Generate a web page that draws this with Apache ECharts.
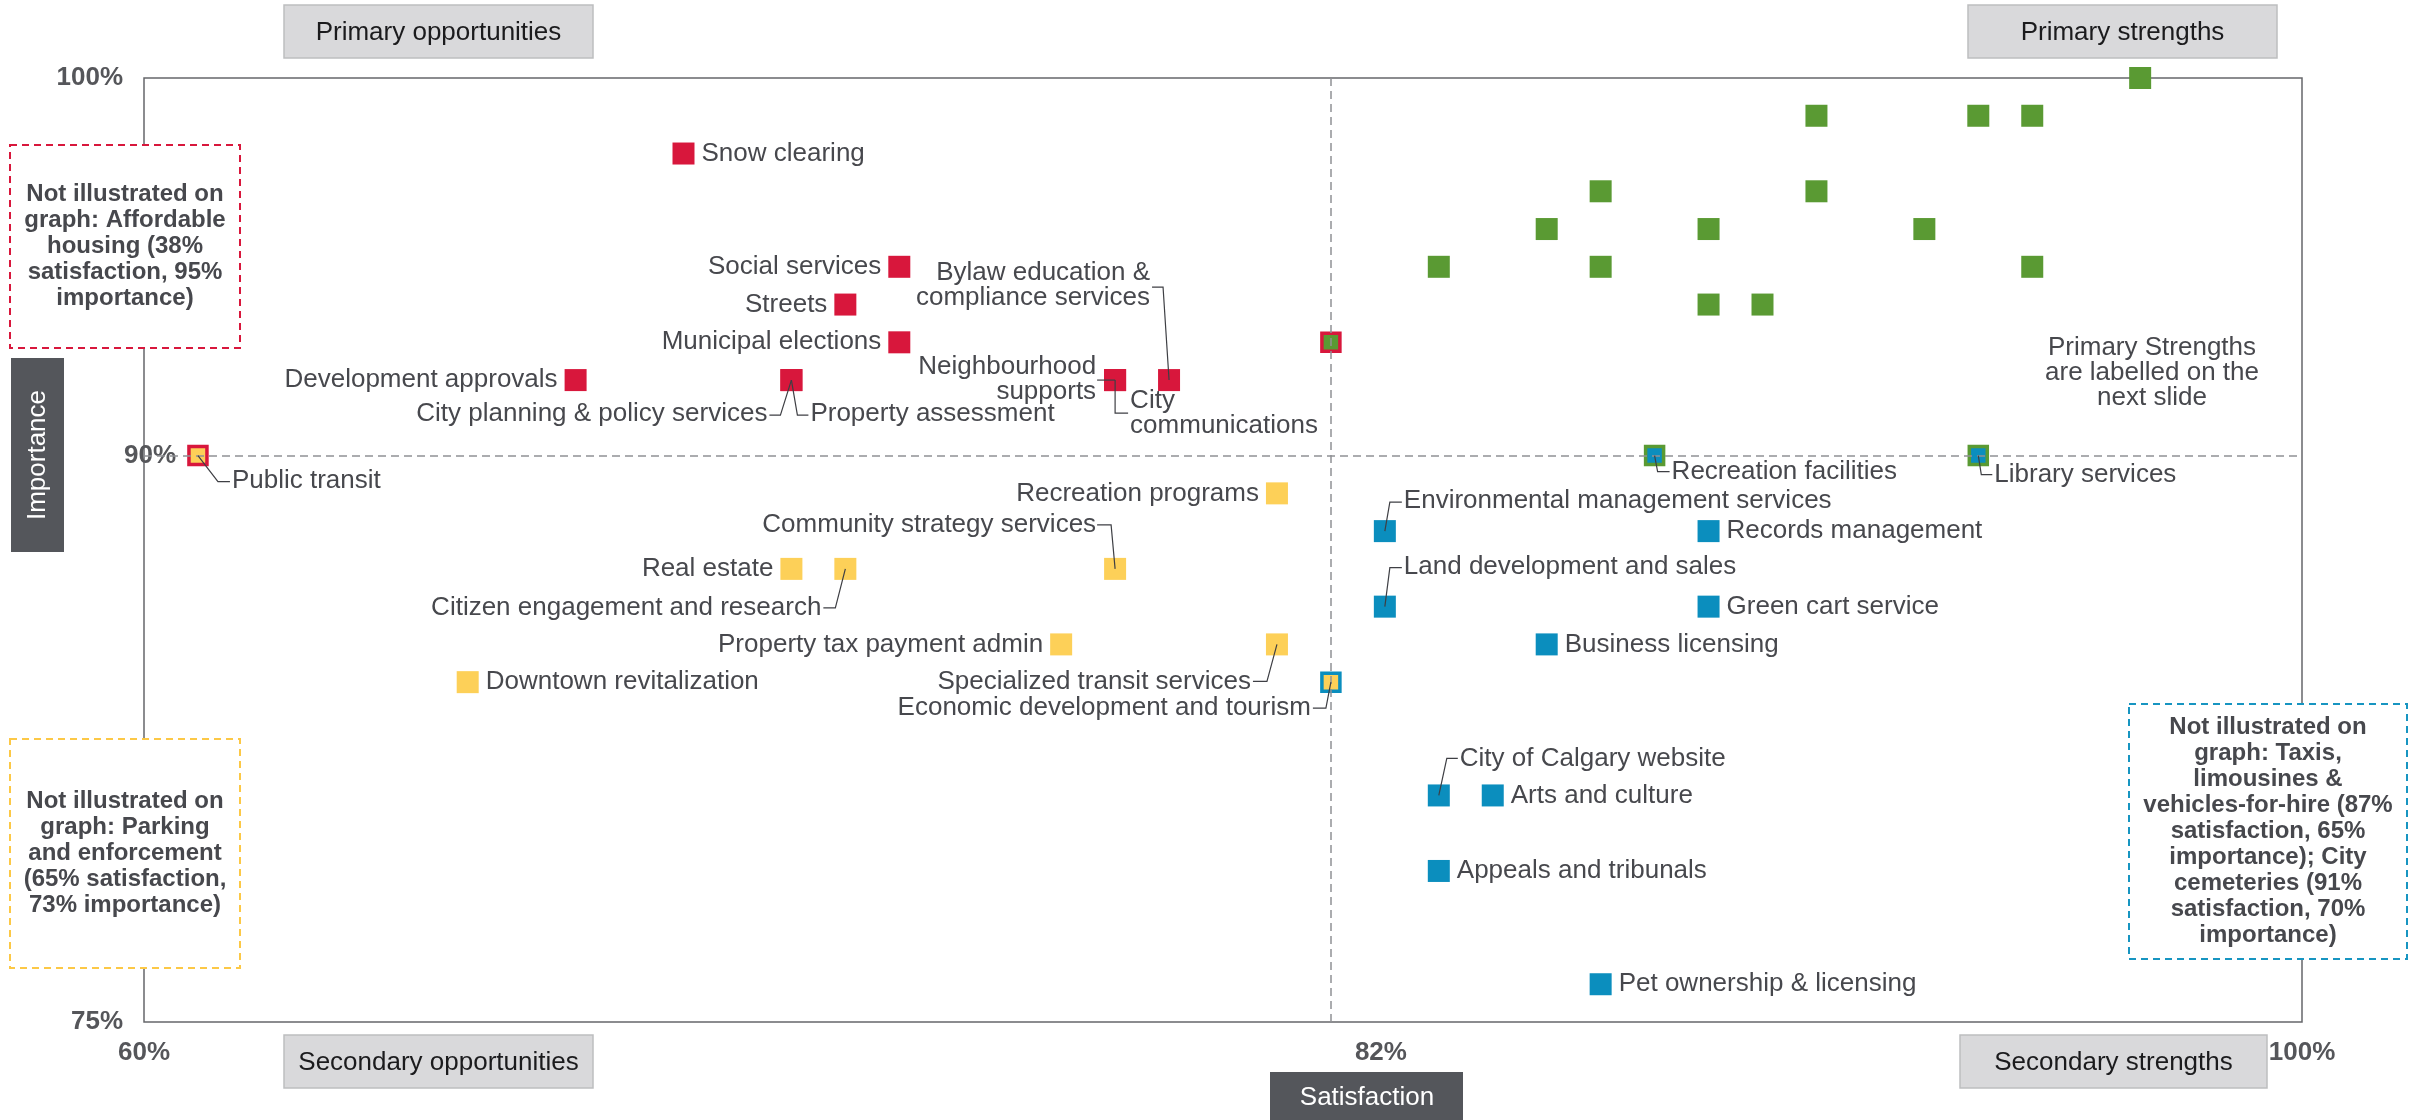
<!DOCTYPE html>
<html>
<head>
<meta charset="UTF-8">
<title>Satisfaction vs importance</title>
<style>
  html, body { margin: 0; padding: 0; background: #fff; }
  #chart { width: 2420px; height: 1120px; }
</style>
<script src="https://cdn.jsdelivr.net/npm/echarts@6/dist/echarts.min.js"></script>
</head>
<body>
<div id="chart"></div>
<script>
// [name, satisfaction %, importance %, also in quadrant]
var primaryOpportunities = [
  ['Snow clearing', 70, 98],
  ['Social services', 74, 95],
  ['Streets', 73, 94],
  ['Municipal elections', 74, 93],
  ['Development approvals', 68, 92],
  ['City planning & policy services', 72, 92],
  ['Property assessment', 72, 92],
  ['Neighbourhood supports', 78, 92],
  ['City communications', 78, 92],
  ['Bylaw education & compliance services', 79, 92]
];
var secondaryOpportunities = [
  ['Public transit', 61, 90, 'primaryOpp'],
  ['Recreation programs', 81, 89],
  ['Community strategy services', 78, 87],
  ['Real estate', 72, 87],
  ['Citizen engagement and research', 73, 87],
  ['Property tax payment admin', 77, 85],
  ['Specialized transit services', 81, 85],
  ['Downtown revitalization', 66, 84],
  ['Economic development and tourism', 82, 84, 'secondaryStr']
];
var secondaryStrengths = [
  ['Recreation facilities', 88, 90, 'primaryStr'],
  ['Library services', 94, 90, 'primaryStr'],
  ['Environmental management services', 83, 88],
  ['Records management', 89, 88],
  ['Land development and sales', 83, 86],
  ['Green cart service', 89, 86],
  ['Business licensing', 86, 85],
  ['City of Calgary website', 84, 81],
  ['Arts and culture', 85, 81],
  ['Appeals and tribunals', 84, 79],
  ['Pet ownership & licensing', 87, 76]
];
// labelled on the next slide
var primaryStrengths = [
  ['', 97, 100], ['', 91, 99], ['', 94, 99], ['', 95, 99],
  ['', 87, 97], ['', 91, 97],
  ['', 86, 96], ['', 89, 96], ['', 93, 96],
  ['', 84, 95], ['', 87, 95], ['', 95, 95],
  ['', 89, 94], ['', 90, 94],
  ['', 82, 93, 'primaryOpp']
];
var xTicks = [60, 82, 100];
var yTicks = [75, 90, 100];
var midSatisfaction = 82;
var midImportance = 90;

var colors = {
  primaryOpp: '#D8173C',
  secondaryOpp: '#FDD058',
  secondaryStr: '#0B8EBE',
  primaryStr: '#5A9A33'
};

// label placement: side for plain labels, pixel offsets + leader for the rest
var plainSide = {
  'Snow clearing': 'right', 'Downtown revitalization': 'right', 'Records management': 'right',
  'Green cart service': 'right', 'Business licensing': 'right', 'Arts and culture': 'right',
  'Appeals and tribunals': 'right', 'Pet ownership & licensing': 'right',
  'Social services': 'left', 'Streets': 'left', 'Municipal elections': 'left',
  'Development approvals': 'left', 'Recreation programs': 'left', 'Real estate': 'left',
  'Property tax payment admin': 'left'
};
var leaderLayout = {
  'City planning & policy services': { text: [-24, 34], align: 'right', line: [[0, 0], [-11, 35], [-22, 35]] },
  'Property assessment': { text: [19, 34], align: 'left', line: [[0, 0], [6, 35], [17, 35]] },
  'Neighbourhood supports': { text: [-19, -1], align: 'right', lines: 'Neighbourhood\nsupports', line: [[0, 0], [-18, 0]] },
  'City communications': { text: [15, 33], align: 'left', lines: 'City\ncommunications', line: [[0, 0], [0, 33], [13, 33]] },
  'Bylaw education & compliance services': { text: [-19, -95], align: 'right', lines: 'Bylaw education &\ncompliance services', line: [[0, 0], [-6, -93], [-17, -93]] },
  'Public transit': { text: [34, 25], align: 'left', line: [[0, 0], [20, 26], [32, 26]] },
  'Community strategy services': { text: [-19, -44], align: 'right', line: [[0, 0], [-4, -44], [-18, -44]] },
  'Citizen engagement and research': { text: [-24, 39], align: 'right', line: [[0, 0], [-10, 39], [-22, 39]] },
  'Specialized transit services': { text: [-26, 37], align: 'right', line: [[0, 0], [-10, 37], [-24, 37]] },
  'Economic development and tourism': { text: [-20, 26], align: 'right', line: [[0, 0], [-5, 26], [-18, 26]] },
  'Recreation facilities': { text: [17, 16], align: 'left', line: [[0, 0], [3, 16], [15, 16]] },
  'Library services': { text: [16, 19], align: 'left', line: [[0, 0], [3, 19], [14, 19]] },
  'Environmental management services': { text: [19, -30], align: 'left', line: [[0, 0], [5, -29], [17, -29]] },
  'Land development and sales': { text: [19, -40], align: 'left', line: [[0, 0], [5, -39], [17, -39]] },
  'City of Calgary website': { text: [21, -37], align: 'left', line: [[0, 0], [8, -37], [19, -37]] }
};

var FONT = '"Liberation Sans", Arial, sans-serif';
var TEXT = '#47484D';

function toItem(row, fill) {
  var item = { name: row[0], value: [row[1], row[2]], itemStyle: { color: fill, opacity: 1 } };
  if (row[3]) {
    item.symbolSize = 18;
    item.itemStyle.borderColor = colors[row[3]];
    item.itemStyle.borderWidth = 3.5;
  }
  var name = row[0];
  if (plainSide[name]) {
    item.label = { show: true, position: plainSide[name], distance: 7, formatter: name };
  } else if (leaderLayout[name]) {
    var lay = leaderLayout[name];
    item.label = {
      show: true, position: 'inside', offset: lay.text, align: lay.align,
      verticalAlign: 'middle', lineHeight: 25, formatter: lay.lines || name
    };
  }
  return item;
}

function groupSeries(rows, key) {
  return {
    type: 'scatter',
    symbol: 'rect',
    symbolSize: 22,
    z: 3,
    itemStyle: { opacity: 1 },
    label: { show: false, fontFamily: FONT, fontSize: 26, color: TEXT, opacity: 1 },
    emphasis: { disabled: true },
    data: rows.map(function (r) { return toItem(r, colors[key]); })
  };
}

var leaderRows = [];
[primaryOpportunities, secondaryOpportunities, secondaryStrengths].forEach(function (g) {
  g.forEach(function (r) { if (leaderLayout[r[0]]) leaderRows.push(r); });
});

var chart = echarts.init(document.getElementById('chart'));

var quadrantBoxes = [
  { text: 'Primary opportunities', x: 284, y: 5, w: 309, h: 53 },
  { text: 'Primary strengths', x: 1968, y: 5, w: 309, h: 53 },
  { text: 'Secondary opportunities', x: 284, y: 1035, w: 309, h: 53 },
  { text: 'Secondary strengths', x: 1960, y: 1035, w: 307, h: 53 }
];
var noteBoxes = [
  { color: colors.primaryOpp, x: 10, y: 145, w: 230, h: 203,
    text: 'Not illustrated on\ngraph: Affordable\nhousing (38%\nsatisfaction, 95%\nimportance)' },
  { color: '#FCC846', x: 10, y: 739, w: 230, h: 229,
    text: 'Not illustrated on\ngraph: Parking\nand enforcement\n(65% satisfaction,\n73% importance)' },
  { color: '#1795C1', x: 2129, y: 704, w: 278, h: 255,
    text: 'Not illustrated on\ngraph: Taxis,\nlimousines &\nvehicles-for-hire (87%\nsatisfaction, 65%\nimportance); City\ncemeteries (91%\nsatisfaction, 70%\nimportance)' }
];

var graphics = [];
quadrantBoxes.forEach(function (b) {
  graphics.push({
    type: 'rect', z: 100, silent: true,
    shape: { x: b.x, y: b.y, width: b.w, height: b.h },
    style: { fill: '#D9D9DB', stroke: '#BDBEC0', lineWidth: 1.5 }
  });
  graphics.push({
    type: 'text', z: 101, silent: true, x: b.x + b.w / 2, y: b.y + b.h / 2 + 1,
    style: { text: b.text, font: '26px ' + FONT, fill: '#1b1b1d', align: 'center', verticalAlign: 'middle' }
  });
});
noteBoxes.forEach(function (b) {
  graphics.push({
    type: 'rect', z: 100, silent: true,
    shape: { x: b.x, y: b.y, width: b.w, height: b.h },
    style: { fill: '#fff', stroke: b.color, lineWidth: 2, lineDash: [7, 5] }
  });
  graphics.push({
    type: 'text', z: 101, silent: true, x: b.x + b.w / 2, y: b.y + b.h / 2,
    style: { text: b.text, font: 'bold 24px ' + FONT, fill: TEXT, align: 'center', verticalAlign: 'middle', lineHeight: 26 }
  });
});
// axis titles
graphics.push({
  type: 'rect', z: 100, silent: true,
  shape: { x: 11, y: 358, width: 53, height: 194 },
  style: { fill: '#54565B' }
});
graphics.push({
  type: 'text', z: 101, silent: true, x: 38, y: 455, rotation: Math.PI / 2,
  style: { text: 'Importance', font: '26px ' + FONT, fill: '#fff', align: 'center', verticalAlign: 'middle' }
});
graphics.push({
  type: 'rect', z: 100, silent: true,
  shape: { x: 1270, y: 1072, width: 193, height: 60 },
  style: { fill: '#54565B' }
});
graphics.push({
  type: 'text', z: 101, silent: true, x: 1367, y: 1098,
  style: { text: 'Satisfaction', font: '26px ' + FONT, fill: '#fff', align: 'center', verticalAlign: 'middle' }
});
graphics.push({
  type: 'text', z: 101, silent: true, x: 2152, y: 373,
  style: { text: 'Primary Strengths\nare labelled on the\nnext slide', font: '26px ' + FONT, fill: TEXT, align: 'center', verticalAlign: 'middle', lineHeight: 25 }
});

var tickLabel = { fontFamily: FONT, fontSize: 26, fontWeight: 'bold', color: '#55565A' };

var option = {
  animation: false,
  grid: {
    show: true, left: 144, top: 78, right: 118, bottom: 98,
    borderColor: '#66676B', borderWidth: 1.5
  },
  xAxis: {
    type: 'value', min: 60, max: 100,
    axisLine: { show: false }, axisTick: { show: false }, splitLine: { show: false },
    axisLabel: Object.assign({
      customValues: xTicks, margin: 18, lineHeight: 26,
      formatter: function (v) { return v === midSatisfaction ? '{s|' + v + '%}' : v + '%'; },
      rich: { s: Object.assign({ padding: [0, 0, 0, 100] }, tickLabel) }
    }, tickLabel)
  },
  yAxis: {
    type: 'value', min: 75, max: 100,
    axisLine: { show: false }, axisTick: { show: false }, splitLine: { show: false },
    axisLabel: Object.assign({
      customValues: yTicks, margin: -32,
      formatter: function (v) { return v === midImportance ? '{m|' + v + '%}' : '{p|' + v + '%}'; },
      rich: {
        m: Object.assign({}, tickLabel),
        p: Object.assign({ padding: [0, 53, 0, 0] }, tickLabel)
      }
    }, tickLabel)
  },
  graphic: graphics,
  series: [
    {
      type: 'scatter', z: 1, data: [], silent: true,
      markLine: {
        silent: true, symbol: ['none', 'none'], animation: false,
        label: { show: false },
        lineStyle: { type: [8, 5], color: '#909195', width: 1.5 },
        data: [{ xAxis: midSatisfaction }, { yAxis: midImportance }]
      }
    },
    groupSeries(primaryStrengths, 'primaryStr'),
    groupSeries(primaryOpportunities, 'primaryOpp'),
    groupSeries(secondaryOpportunities, 'secondaryOpp'),
    groupSeries(secondaryStrengths, 'secondaryStr'),
    {
      type: 'custom', coordinateSystem: 'cartesian2d', z: 5, silent: true,
      data: leaderRows.map(function (r) { return [r[1], r[2]]; }),
      encode: { x: 0, y: 1 },
      renderItem: function (params, api) {
        var c = api.coord([api.value(0), api.value(1)]);
        var pts = leaderLayout[leaderRows[params.dataIndex][0]].line.map(function (p) {
          return [c[0] + p[0], c[1] + p[1]];
        });
        return {
          type: 'polyline', shape: { points: pts },
          style: { stroke: '#3E3F44', lineWidth: 1.2, fill: null }
        };
      }
    }
  ]
};

chart.setOption(option);
</script>
</body>
</html>
